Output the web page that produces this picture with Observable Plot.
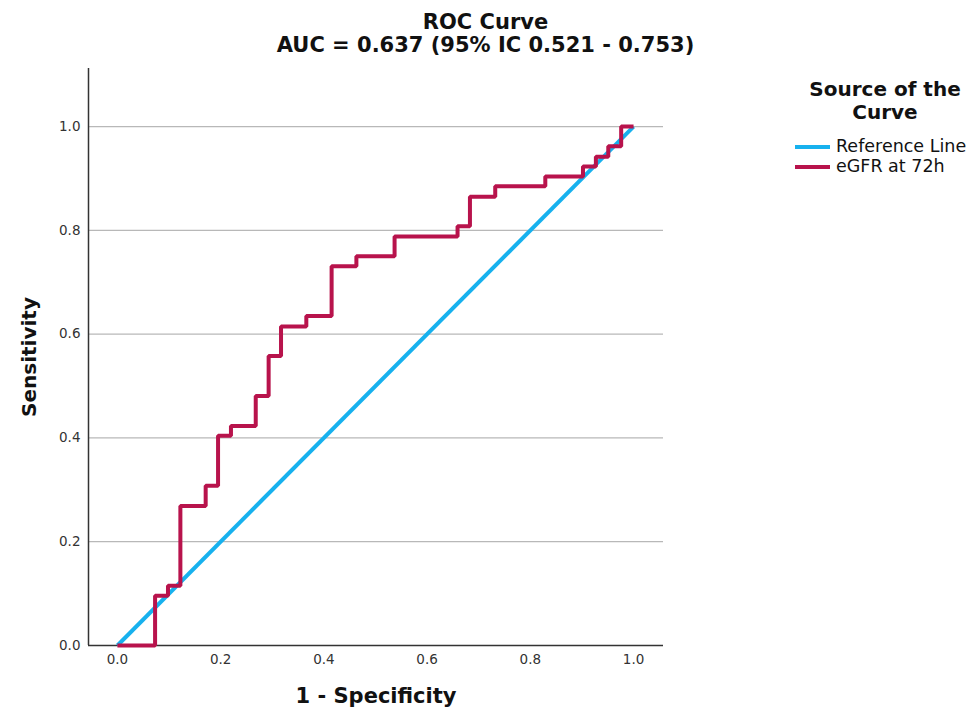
<!DOCTYPE html>
<html><head><meta charset="utf-8">
<script src="https://cdn.jsdelivr.net/npm/d3@7"></script>
<script src="https://cdn.jsdelivr.net/npm/@observablehq/plot@0.6"></script>
<style>
body{margin:0;background:#fff;font-family:"DejaVu Sans",sans-serif;}
#wrap{position:relative;width:971px;height:713px;overflow:hidden;}
#title{position:absolute;left:0;top:11px;width:971px;text-align:center;font-weight:bold;font-size:21px;line-height:23px;color:#111;}
#legend{position:absolute;left:785px;top:78px;width:200px;color:#111;}
#legend .head{text-align:center;font-weight:bold;font-size:20px;line-height:23px;margin-bottom:12px;}
#legend .row{position:relative;height:20px;font-size:17.5px;line-height:20px;}
#legend .sw{position:absolute;left:10px;top:9px;width:35px;height:4px;}
#legend .lab{position:absolute;left:51px;top:0;white-space:nowrap;}
</style>
</head><body>
<div id="wrap">
<div id="chart"></div>
<div id="title">ROC Curve<br>AUC = 0.637 (95% IC 0.521 - 0.753)</div>
<div id="legend"></div>
</div>
<script>
const seriesNames = ["Reference Line", "eGFR at 72h"];
const seriesColors = ["#17b1ee", "#b8134c"];
const refFpr = [0, 1];
const refTpr = [0, 1];
const rocFpr = [0, 0.073, 0.098, 0.122, 0.171, 0.195, 0.220, 0.268, 0.293, 0.317, 0.366, 0.415, 0.463, 0.537, 0.659, 0.683, 0.732, 0.829, 0.902, 0.927, 0.951, 0.976, 1.0];
const rocTpr = [0, 0.096, 0.115, 0.269, 0.308, 0.404, 0.423, 0.481, 0.558, 0.615, 0.635, 0.731, 0.750, 0.788, 0.808, 0.865, 0.885, 0.904, 0.923, 0.942, 0.962, 1.0, 1.0];
const xTicks = [0, 0.2, 0.4, 0.6, 0.8, 1.0];
const yTicks = [0, 0.2, 0.4, 0.6, 0.8, 1.0];
const xTitle = "1 - Specificity";
const yTitle = "Sensitivity";
const legendTitle = ["Source of the", "Curve"];

const ref = refFpr.map((x, i) => ({x, y: refTpr[i]}));
const roc = rocFpr.map((x, i) => ({x, y: rocTpr[i]}));
const xMin = -0.056, xMax = 1.058, yMin = 0, yMax = 1.112;

const chart = Plot.plot({
  width: 971, height: 713,
  marginLeft: 88, marginRight: 308, marginTop: 68, marginBottom: 68,
  x: {domain: [xMin, xMax]},
  y: {domain: [yMin, yMax]},
  style: {fontFamily: "DejaVu Sans, sans-serif", background: "white", color: "#333"},
  marks: [
    Plot.ruleY(yTicks.filter(d => d > 0), {stroke: "#b8b8b8", strokeWidth: 1.3}),
    Plot.axisX(xTicks, {tickSize: 0, tickPadding: 9, tickFormat: d3.format(".1f"), fontSize: 13.5, label: null}),
    Plot.axisY(yTicks, {tickSize: 0, tickPadding: 8, tickFormat: d3.format(".1f"), fontSize: 13.5, label: null}),
    Plot.ruleX([xMin], {stroke: "#333", strokeWidth: 1.5}),
    Plot.ruleY([yMin], {stroke: "#333", strokeWidth: 1.5}),
    Plot.line(ref, {x: "x", y: "y", stroke: seriesColors[0], strokeWidth: 4, strokeLinecap: "butt"}),
    Plot.line(roc, {x: "x", y: "y", curve: "step-after", stroke: seriesColors[1], strokeWidth: 4, strokeLinecap: "butt", strokeLinejoin: "miter"}),
    Plot.text([yTitle], {frameAnchor: "left", textAnchor: "middle", rotate: -90, dx: -59, fontSize: 20, fontWeight: "bold", fill: "#111"}),
    Plot.text([xTitle], {frameAnchor: "bottom", dy: 57, fontSize: 21, fontWeight: "bold", fill: "#111"})
  ]
});
document.getElementById("chart").appendChild(chart);

const lg = document.getElementById("legend");
lg.innerHTML = `<div class="head">${legendTitle.join("<br>")}</div>` +
  seriesNames.map((n, i) => `<div class="row"><div class="sw" style="background:${seriesColors[i]}"></div><div class="lab">${n}</div></div>`).join("");
</script>
</body></html>
